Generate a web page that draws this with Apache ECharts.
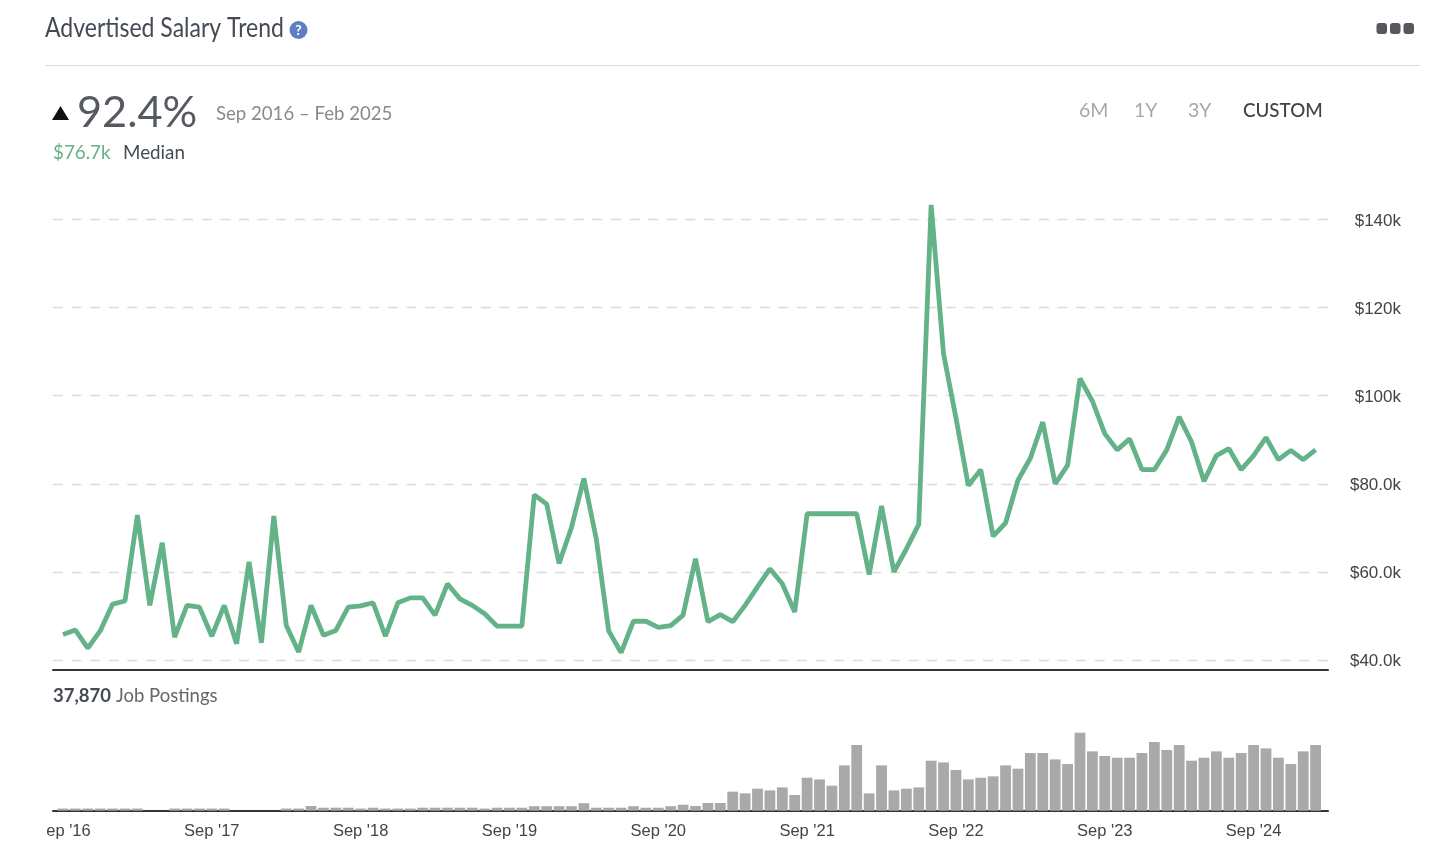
<!DOCTYPE html>
<html><head><meta charset="utf-8">
<style>html,body{margin:0;padding:0;background:#fff}#c{width:1456px;height:842px}</style>
<script src="https://cdn.jsdelivr.net/npm/echarts@6/dist/echarts.min.js"></script>
</head><body><div id="c"></div>
<script>
const salaryK = [45.8,46.8,42.7,46.6,52.7,53.4,72.9,52.4,66.6,45.2,52.4,52.0,45.4,52.4,43.7,62.3,43.9,72.7,47.9,41.8,
52.4,45.6,46.7,52.0,52.3,53.0,45.4,53.0,54.1,54.1,50.2,57.3,53.9,52.4,50.5,47.7,47.7,47.7,77.5,75.4,
61.9,70.1,81.2,67.5,46.6,41.7,48.8,48.8,47.4,47.8,50.2,63.0,48.7,50.3,48.7,52.4,56.6,60.7,57.3,50.9,
73.2,73.2,73.2,73.2,73.2,59.4,75.0,60.0,65.2,70.8,143.3,109.5,95.0,79.6,83.2,68.1,71.1,80.8,85.8,94.0,
80.0,84.2,103.9,98.8,91.4,87.7,90.2,83.2,83.2,87.7,95.2,89.5,80.6,86.4,88.0,83.2,86.4,90.5,85.5,87.6,85.5,87.7];
const postings = [35,35,35,35,35,35,35,null,null,35,35,35,35,35,null,null,null,null,35,35,
77,49,49,49,35,49,35,35,35,49,49,49,49,49,35,49,49,49,74,74,
74,74,123,49,49,49,74,49,49,74,98,77,126,126,312,284,361,333,382,257,
541,513,410,743,1077,284,743,333,361,382,820,792,667,513,541,563,743,689,946,946,
841,766,1279,973,897,869,869,946,1127,995,1077,820,869,973,869,946,1077,1022,869,766,973,1077];
const salaryTicks = [40,60,80,100,120,140];
const salaryTickLabels = ['$40.0k','$60.0k','$80.0k','$100k','$120k','$140k'];
const monthTicks = [0,12,24,36,48,60,72,84,96];
const monthTickLabels = ["ep '16","Sep '17","Sep '18","Sep '19","Sep '20","Sep '21","Sep '22","Sep '23","Sep '24"];
const title = 'Advertised Salary Trend';
const change = '92.4%', range = 'Sep 2016 – Feb 2025', median = '$76.7k', medianLabel = 'Median';
const ranges = ['6M','1Y','3Y','CUSTOM'];
const totalPostings = '37,870', postingsLabel = 'Job Postings';

const GREEN = '#63b288', LATO = 'Lato, sans-serif', ARIAL = '"Liberation Sans", Arial, sans-serif';
const X_MIN = -0.806, X_MAX = 102;
const txt = (x, y, text, size, fill, extra, el) => Object.assign({type:'text', z:10, style:Object.assign({x, y, text, fill, fontFamily:LATO, fontSize:size, verticalAlign:'middle', align:'left'}, extra||{})}, el||{});
const chart = echarts.init(document.getElementById('c'), null, {renderer:'canvas'});
chart.setOption({
  animation:false, backgroundColor:'#fff',
  grid:[
    {left:53, right:128, top:219.5, height:440.5},
    {left:53, right:128, top:732.7, height:78}
  ],
  xAxis:[
    {type:'value', gridIndex:0, min:X_MIN, max:X_MAX, offset:10, splitLine:{show:false}, axisTick:{show:false}, axisLabel:{show:false},
      axisLine:{show:true, onZero:false, lineStyle:{color:'#333', width:2}}},
    {type:'value', gridIndex:1, min:X_MIN, max:X_MAX, splitLine:{show:false}, axisTick:{show:false},
      axisLine:{show:true, onZero:false, lineStyle:{color:'#333', width:2}},
      axisLabel:{customValues:monthTicks, showMinLabel:true, margin:12, color:'#444', fontFamily:ARIAL, fontSize:16.5,
        formatter:v => { const s = monthTickLabels[monthTicks.indexOf(v)]; return v === 0 ? '{a|'+s+'}' : s; },
        rich:{a:{padding:[0,0,0,11], color:'#444', fontFamily:ARIAL, fontSize:16.5}}}}
  ],
  yAxis:[
    {type:'value', gridIndex:0, position:'right', min:40, max:140, interval:20, axisLine:{show:false}, axisTick:{show:false},
      splitLine:{show:true, lineStyle:{color:'#dadada', width:1.3, type:[10,8.6]}},
      axisLabel:{align:'right', margin:73, color:'#444', fontFamily:ARIAL, fontSize:17,
        formatter:v => '{v|' + salaryTickLabels[salaryTicks.indexOf(v)] + '}',
        rich:{v:{padding:[3,0,0,0], color:'#444', fontFamily:ARIAL, fontSize:17}}}},
    {type:'value', gridIndex:1, min:0, max:1279, axisLine:{show:false}, axisTick:{show:false}, splitLine:{show:false}, axisLabel:{show:false}}
  ],
  series:[
    {type:'bar', xAxisIndex:1, yAxisIndex:1, barWidth:10.8, itemStyle:{color:'#a9a9a9'}, data:postings.map((v,i)=>[i,v]), silent:true},
    {type:'line', xAxisIndex:0, yAxisIndex:0, clip:false, symbol:'none', smooth:false, lineStyle:{color:GREEN, width:4.8, join:'bevel'}, data:salaryK.map((v,i)=>[i,v]), silent:true}
  ],
  graphic:[
    txt(0, 0, title, 26, '#444b54', {}, {x:45, y:29, scaleX:0.885}),
    {type:'circle', z:10, shape:{cx:298.5, cy:30, r:9}, style:{fill:'#5b7fc0'}},
    txt(298.5, 30.5, '?', 14, '#fff', {align:'center', fontWeight:'bold'}),
    {type:'rect', z:10, shape:{x:1376.5, y:23, width:10.5, height:11, r:3}, style:{fill:'#55585c'}},
    {type:'rect', z:10, shape:{x:1390, y:23, width:10.5, height:11, r:3}, style:{fill:'#55585c'}},
    {type:'rect', z:10, shape:{x:1403.5, y:23, width:10.5, height:11, r:3}, style:{fill:'#55585c'}},
    {type:'line', z:10, shape:{x1:45, y1:65.5, x2:1420, y2:65.5}, style:{stroke:'#dcdcdc', lineWidth:1}},
    {type:'polygon', z:10, shape:{points:[[52,120],[69,120],[60.5,106]]}, style:{fill:'#111'}},
    txt(77, 113, change, 43.3, '#555960', {fontWeight:400}),
    txt(216, 114, range, 18.6, '#8a8a8a'),
    txt(53, 152.5, median, 18.8, GREEN),
    txt(123, 152.5, medianLabel, 18.8, '#444b54'),
    txt(1079, 111, ranges[0], 19.5, '#a8a8a8'),
    txt(1134, 111, ranges[1], 19.5, '#a8a8a8'),
    txt(1188, 111, ranges[2], 19.5, '#a8a8a8'),
    txt(1243, 111, ranges[3], 18.8, '#3d434a', {fontWeight:500}),
    txt(53, 696, totalPostings, 18.5, '#444b54', {fontWeight:'bold'}),
    txt(116, 696, postingsLabel, 18.5, '#666')
  ]
});
</script></body></html>
